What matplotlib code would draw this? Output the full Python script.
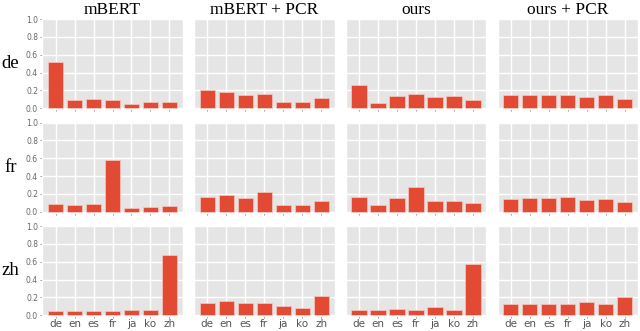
import matplotlib
matplotlib.use("Agg")
import matplotlib.pyplot as plt
import numpy as np

plt.style.use("ggplot")

langs = ["de", "en", "es", "fr", "ja", "ko", "zh"]
rows = ["de", "fr", "zh"]
cols = ["mBERT", "mBERT + PCR", "ours", "ours + PCR"]

de_mbert = [0.52, 0.09, 0.10, 0.09, 0.05, 0.07, 0.07]
de_mbert_pcr = [0.21, 0.18, 0.15, 0.155, 0.075, 0.075, 0.12]
de_ours = [0.26, 0.065, 0.14, 0.155, 0.125, 0.133, 0.09]
de_ours_pcr = [0.152, 0.145, 0.148, 0.145, 0.126, 0.15, 0.107]

fr_mbert = [0.09, 0.08, 0.09, 0.585, 0.045, 0.052, 0.063]
fr_mbert_pcr = [0.167, 0.19, 0.155, 0.22, 0.078, 0.074, 0.122]
fr_ours = [0.167, 0.074, 0.152, 0.274, 0.122, 0.122, 0.10]
fr_ours_pcr = [0.148, 0.156, 0.156, 0.167, 0.137, 0.148, 0.107]

zh_mbert = [0.048, 0.045, 0.048, 0.048, 0.063, 0.06, 0.678]
zh_mbert_pcr = [0.141, 0.16, 0.141, 0.141, 0.107, 0.085, 0.215]
zh_ours = [0.06, 0.056, 0.067, 0.063, 0.096, 0.063, 0.578]
zh_ours_pcr = [0.122, 0.13, 0.13, 0.13, 0.148, 0.126, 0.20]

data = [
    [de_mbert, de_mbert_pcr, de_ours, de_ours_pcr],
    [fr_mbert, fr_mbert_pcr, fr_ours, fr_ours_pcr],
    [zh_mbert, zh_mbert_pcr, zh_ours, zh_ours_pcr],
]

fig = plt.figure(figsize=(6.4, 3.31), dpi=100)
gs = fig.add_gridspec(3, 4, left=0.066, right=0.997, top=0.945, bottom=0.045,
                      wspace=0.08, hspace=0.137)
serif = ["Liberation Serif", "DejaVu Serif"]
x = np.arange(len(langs))
for i, r in enumerate(rows):
    for j, c in enumerate(cols):
        ax = fig.add_subplot(gs[i, j])
        ax.bar(x, data[i][j], width=0.8, color="#E24A33", edgecolor="#f4c2b8", linewidth=0.6)
        ax.set_ylim(-0.01, 1.01)
        ax.set_xlim(-0.7, 6.7)
        ax.set_xticks(x)
        ax.set_yticks([0.0, 0.2, 0.4, 0.6, 0.8, 1.0])
        ax.grid(True, color="white", linewidth=1.0)
        ax.tick_params(axis="both", length=1.5, width=0.5, colors="#666666", pad=1.5)
        ax.tick_params(axis="x", pad=0.8)
        if i == 2:
            ax.set_xticklabels(langs, fontsize=7.5, color="#555555")
        else:
            ax.set_xticklabels([])
        if j == 0:
            ax.set_yticklabels(["0.0", "0.2", "0.4", "0.6", "0.8", "1.0"], fontsize=5.5, color="#666666")
        else:
            ax.set_yticklabels([])
            ax.tick_params(axis="y", length=0)
        if i == 0:
            ax.set_title(c, family=serif, fontsize=12.5, color="black", pad=3)
        if j == 0:
            ax.text(-0.225, 0.5, r, transform=ax.transAxes, family=serif, fontsize=13.5,
                    ha="center", va="center", color="black")

fig.savefig("out.png", dpi=100)
